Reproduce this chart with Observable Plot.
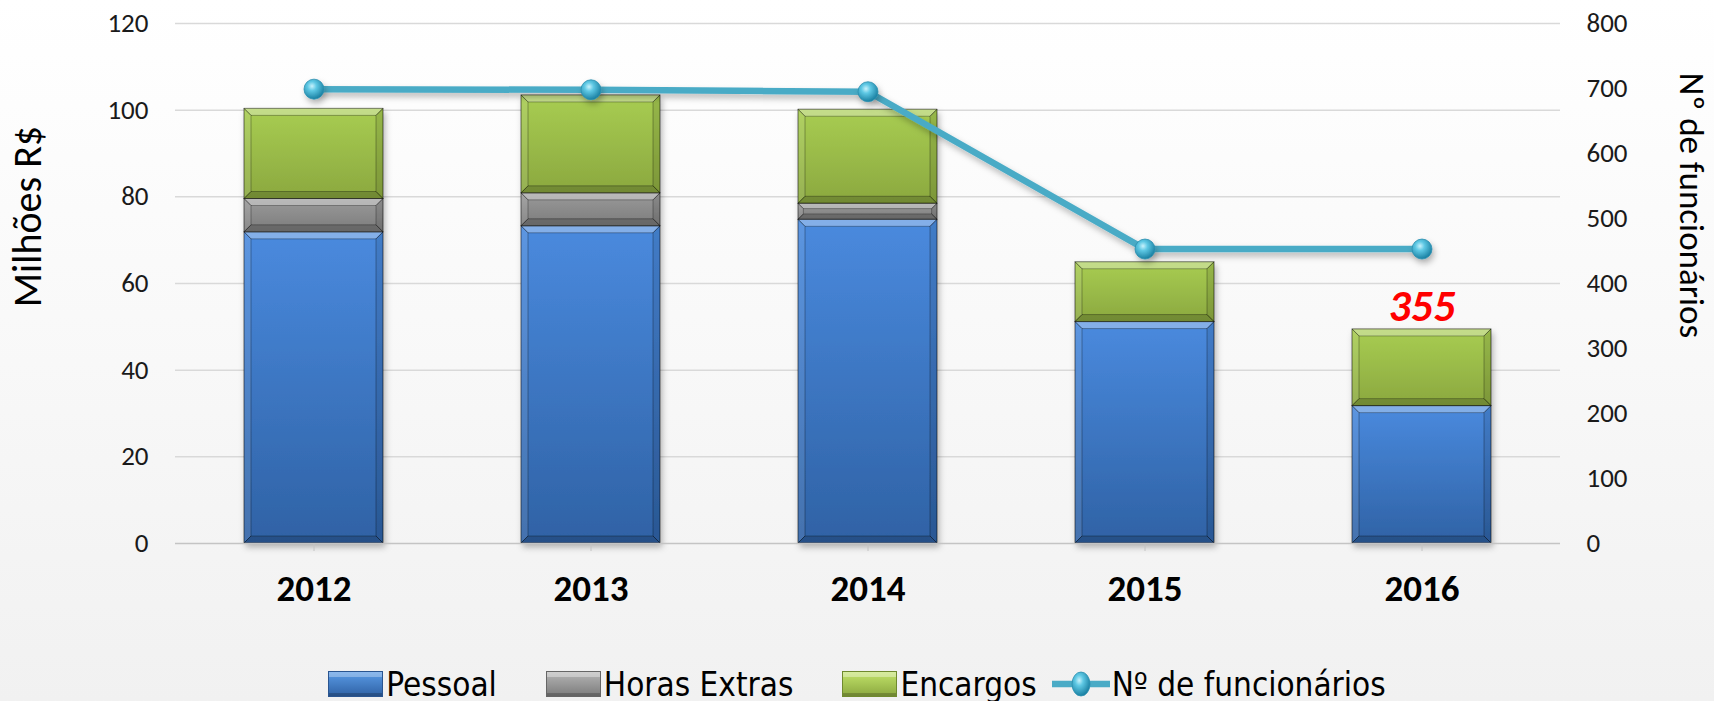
<!DOCTYPE html>
<html>
<head>
<meta charset="utf-8">
<script src="https://cdn.jsdelivr.net/npm/d3@7"></script>
<script src="https://cdn.jsdelivr.net/npm/@observablehq/plot@0.6"></script>
<style>
  html, body { margin: 0; padding: 0; }
  body { width: 1714px; height: 701px; overflow: hidden;
         background: linear-gradient(#ffffff 0%, #f9f9f9 45%, #f1f1f1 100%);
         font-family: Carlito, Lato, "Open Sans", sans-serif; }
  #chart svg { display: block; overflow: visible; }
  #legend { height: 51px; display: flex; justify-content: center; align-items: center;
            font-family: "Liberation Sans Narrow", "DejaVu Sans Condensed", sans-serif;
            font-stretch: condensed; font-size: 33px; color: #000; padding-top: 17px; box-sizing: border-box; }
  .item { display: flex; align-items: center; }
  .sw { width: 55px; height: 26px; margin-right: 3px; box-sizing: border-box; }
</style>
</head>
<body>
<div id="chart"></div>
<div id="legend"></div>
<script>
// ---- data ----
const years = ["2012", "2013", "2014", "2015", "2016"];
const series = ["Pessoal", "Horas Extras", "Encargos"];
const pessoal = [71.8, 73.2, 74.7, 51.1, 31.7];
const horasExtras = [7.7, 7.6, 3.7, 0, 0];
const encargos = [20.8, 22.6, 21.7, 13.8, 17.7];
const funcionarios = [699, 698, 695, 453, 453];
const leftTicks = [0, 20, 40, 60, 80, 100, 120];
const rightTicks = [0, 100, 200, 300, 400, 500, 600, 700, 800];
const annotationYear = "2016";
const annotationText = "355";
const leftTitle = "Milhões R$";
const rightTitle = "Nº de funcionários";
const lineLabel = "Nº de funcionários";

const seriesValues = [pessoal, horasExtras, encargos];
const rows = years.flatMap((yr, i) => series.map((s, k) => ({year: yr, serie: s, value: seriesValues[k][i]}))).filter(d => d.value > 0);
const LEFT_MAX = 120, RIGHT_MAX = 800;
const toLeft = v => v * LEFT_MAX / RIGHT_MAX;
const lineRows = years.map((yr, i) => ({year: yr, n: funcionarios[i]}));
const ai = years.indexOf(annotationYear);
const annRows = [{year: annotationYear, total: pessoal[ai] + horasExtras[ai] + encargos[ai], label: annotationText}];

const FONT = "Carlito, Lato, 'Open Sans', sans-serif";

const chart = Plot.plot({
  width: 1714,
  height: 650,
  marginLeft: 175,
  marginRight: 154,
  marginTop: 23,
  marginBottom: 107,
  style: {fontFamily: FONT, background: "transparent", color: "#1a1a1a"},
  x: {domain: years, paddingInner: 0.5, paddingOuter: 0.25, axis: null},
  y: {domain: [0, LEFT_MAX], axis: null},
  color: {domain: series, range: ["url(#gBlue)", "url(#gGray)", "url(#gGreen)"]},
  marks: [
    Plot.ruleY(leftTicks.filter(v => v > 0), {stroke: "#d9d9d9", strokeWidth: 1.5}),
    Plot.barY(rows, {x: "year", y: "value", fill: "serie", stroke: "rgba(0,0,0,0.3)", strokeWidth: 1}),
    Plot.ruleY([0], {stroke: "#c4c4c4", strokeWidth: 1.5}),
    Plot.axisX({tickSize: 8, tickPadding: 23, fontSize: 37, fontWeight: "bold", stroke: "#c4c4c4", fill: "#000", label: null}),
    Plot.axisY(leftTicks, {anchor: "left", tickSize: 0, tickPadding: 27, fontSize: 27, fill: "#1a1a1a", label: null}),
    Plot.axisY(rightTicks.map(toLeft), {anchor: "right", tickSize: 0, tickPadding: 26, fontSize: 27, fill: "#1a1a1a",
      tickFormat: d => String(Math.round(d * RIGHT_MAX / LEFT_MAX)), label: null}),
    Plot.line(lineRows, {x: "year", y: d => toLeft(d.n), stroke: "#4aabc6", strokeWidth: 6.5}),
    Plot.dot(lineRows, {x: "year", y: d => toLeft(d.n), r: 10, fill: "url(#gDot)", stroke: "#2a8fb0", strokeWidth: 0.8}),
    Plot.text(annRows, {x: "year", y: "total", text: "label", lineAnchor: "bottom", dy: -8, fontSize: 44,
      fontWeight: "bold", fontStyle: "italic", fill: "#ff0000"}),
    Plot.text([leftTitle], {frameAnchor: "left", textAnchor: "middle", dx: -147, dy: -67, rotate: -90, fontSize: 40, fill: "#000"}),
    Plot.text([rightTitle], {frameAnchor: "right", textAnchor: "middle", dx: 131, dy: -78, rotate: 90, fontSize: 35, fill: "#000"})
  ]
});

// gradients
const NS = "http://www.w3.org/2000/svg";
const defs = document.createElementNS(NS, "defs");
defs.innerHTML = `
  <linearGradient id="gBlue" x1="0" y1="0" x2="0" y2="1">
    <stop offset="0" stop-color="#4a8ade"/><stop offset="1" stop-color="#2f62a5"/></linearGradient>
  <linearGradient id="gGray" x1="0" y1="0" x2="0" y2="1">
    <stop offset="0" stop-color="#9a9a9a"/><stop offset="1" stop-color="#7c7c7c"/></linearGradient>
  <linearGradient id="gGreen" x1="0" y1="0" x2="0" y2="1">
    <stop offset="0" stop-color="#a8cd52"/><stop offset="1" stop-color="#8ba83f"/></linearGradient>
  <radialGradient id="gDot" cx="0.4" cy="0.35" r="0.65">
    <stop offset="0" stop-color="#c8f2fc"/><stop offset="0.35" stop-color="#5ec8e4"/><stop offset="1" stop-color="#1a80a2"/></radialGradient>
  <filter id="shadow" x="-20%" y="-20%" width="140%" height="160%">
    <feDropShadow dx="2" dy="4" stdDeviation="3" flood-color="#000" flood-opacity="0.28"/></filter>`;
chart.insertBefore(defs, chart.firstChild);

// bevel decoration on library-rendered bars
const barG = chart.querySelector('g[aria-label="bar"]');
if (barG) {
  barG.setAttribute("filter", "url(#shadow)");
  const bev = document.createElementNS(NS, "g");
  bev.setAttribute("pointer-events", "none");
  barG.querySelectorAll("rect").forEach(r => {
    const x = +r.getAttribute("x"), y = +r.getAttribute("y"), w = +r.getAttribute("width"), h = +r.getAttribute("height");
    const d = Math.min(7, h / 3);
    const polys = [
      [[x, y, x + w, y, x + w - d, y + d, x + d, y + d], "rgba(255,255,255,0.32)"],
      [[x, y, x + d, y + d, x + d, y + h - d, x, y + h], "rgba(255,255,255,0.10)"],
      [[x + w, y, x + w, y + h, x + w - d, y + h - d, x + w - d, y + d], "rgba(0,0,0,0.10)"],
      [[x, y + h, x + d, y + h - d, x + w - d, y + h - d, x + w, y + h], "rgba(0,0,0,0.18)"]
    ];
    polys.forEach(([pts, c]) => {
      const p = document.createElementNS(NS, "polygon");
      p.setAttribute("points", pts.join(" "));
      p.setAttribute("fill", c);
      bev.appendChild(p);
    });
  });
  barG.appendChild(bev);
}
const lineG = chart.querySelector('g[aria-label="line"]');
if (lineG) lineG.setAttribute("filter", "url(#shadow)");
const dotG = chart.querySelector('g[aria-label="dot"]');
if (dotG) dotG.setAttribute("filter", "url(#shadow)");

document.getElementById("chart").appendChild(chart);

// legend
const swatchCss = {
  "Pessoal": "background: linear-gradient(#5a9be6, #2f62a5); box-shadow: inset 0 5px 0 rgba(255,255,255,0.3), inset 0 -3px 0 rgba(0,0,0,0.2); border: 1px solid #2a5590;",
  "Horas Extras": "background: linear-gradient(#b5b5b5, #7c7c7c); box-shadow: inset 0 5px 0 rgba(255,255,255,0.35), inset 0 -3px 0 rgba(0,0,0,0.2); border: 1px solid #666;",
  "Encargos": "background: linear-gradient(#c2e36a, #8ba83f); box-shadow: inset 0 5px 0 rgba(255,255,255,0.35), inset 0 -3px 0 rgba(0,0,0,0.2); border: 1px solid #6f8a2e;"
};
const gaps = [49, 49, 15];
const legend = document.getElementById("legend");
series.forEach((s, k) => {
  const it = document.createElement("div");
  it.className = "item";
  it.style.marginRight = gaps[k] + "px";
  it.innerHTML = `<div class="sw" style="${swatchCss[s]}"></div><span>${s}</span>`;
  legend.appendChild(it);
});
const li = document.createElement("div");
li.className = "item";
li.innerHTML = `<svg width="58" height="30" style="margin-right:2px"><line x1="0" y1="15" x2="58" y2="15" stroke="#4aabc6" stroke-width="6.5"/><ellipse cx="29" cy="15" rx="9" ry="12" fill="url(#gDot)" stroke="#2a8fb0" stroke-width="0.8"/></svg><span>${lineLabel}</span>`;
legend.appendChild(li);
</script>
</body>
</html>
